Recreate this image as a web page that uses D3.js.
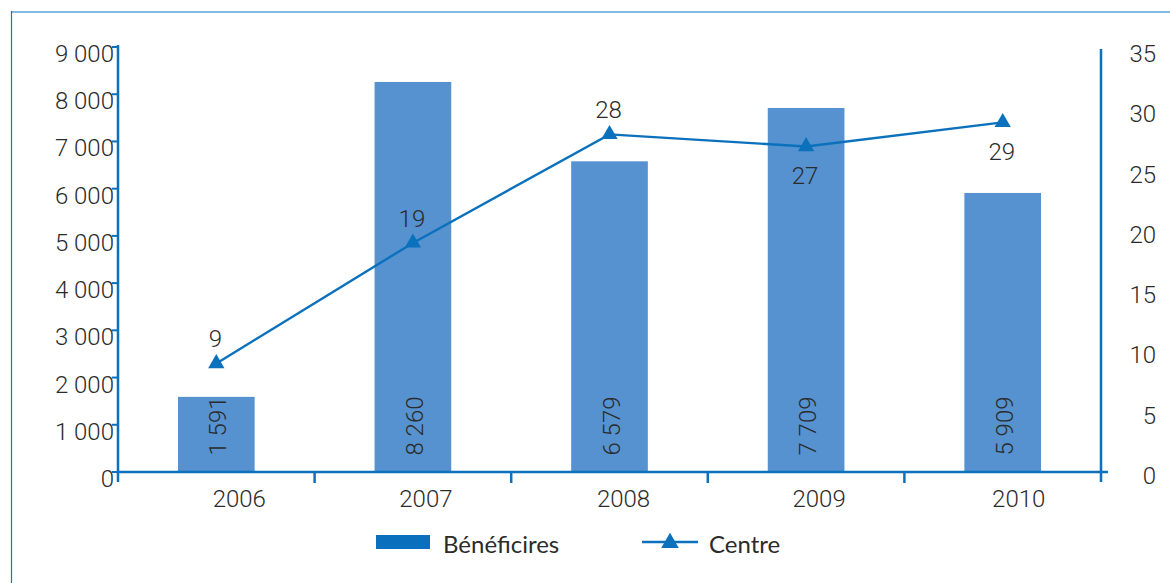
<!DOCTYPE html>
<html>
<head>
<meta charset="utf-8">
<script src="https://cdn.jsdelivr.net/npm/d3@7"></script>
<style>
  html, body { margin: 0; padding: 0; background: #fff; }
  svg { display: block; }
</style>
</head>
<body>
<svg id="chart" width="1170" height="583"></svg>
<script>
const years = ["2006", "2007", "2008", "2009", "2010"];
const beneficiaires = [1591, 8260, 6579, 7709, 5909];
const centres = [9, 19, 28, 27, 29];
const leftTicks = [0, 1000, 2000, 3000, 4000, 5000, 6000, 7000, 8000, 9000];
const rightTicks = [0, 5, 10, 15, 20, 25, 30, 35];
const labelAbove = [true, true, true, false, false];
const legendLabels = ["Bénéficires", "Centre"];
// small horizontal nudges of the year labels, as in the original layout
const yearLabelNudge = [23, 13, 14, 13, 16];

const svg = d3.select("#chart");
const axisColor = "#0b71bc";
const barColor = "#5592cf";
const textColor = "#2b2b2b";
const numFont = "Roboto, 'Liberation Sans', Arial, sans-serif";
const numWeight = 300;
const numSize = 24;
const legFont = "Lato, 'Open Sans', sans-serif";

// frame lines
svg.append("line").attr("x1", 11).attr("x2", 1170).attr("y1", 12).attr("y2", 12)
  .attr("stroke", "#5aa5dd").attr("stroke-width", 1.5);
svg.append("line").attr("x1", 11.5).attr("x2", 11.5).attr("y1", 11).attr("y2", 583)
  .attr("stroke", "#1e72b8").attr("stroke-width", 1.2);

const x = d3.scaleBand().domain(years).range([118, 1101]).paddingInner(0.61).paddingOuter(0.305);
const xb = d3.scaleBand().domain(years).range([118, 1101]);
const yL = d3.scaleLinear().domain([0, 9000]).range([472, 47]);
const yR = d3.scaleLinear().domain([0, 35]).range([472, 50]);

// bars
svg.selectAll("rect.bar").data(beneficiaires).join("rect")
  .attr("class", "bar")
  .attr("x", (d, i) => x(years[i]))
  .attr("width", x.bandwidth())
  .attr("y", d => yL(d))
  .attr("height", d => yL(0) - yL(d))
  .attr("fill", barColor);

const fmt = v => d3.format(",")(v).replace(/,/g, " ");

function numText(sel) {
  return sel.attr("font-family", numFont)
    .attr("font-weight", numWeight)
    .attr("font-size", numSize)
    .attr("fill", textColor);
}

// bar labels (rotated)
svg.selectAll("text.barlab").data(beneficiaires).join("text")
  .attr("class", "barlab")
  .attr("transform", (d, i) => `translate(${x(years[i]) + x.bandwidth() / 2 + 10},426) rotate(-90)`)
  .attr("text-anchor", "middle")
  .call(numText)
  .text(d => fmt(d));

// left axis
const gL = svg.append("g");
gL.append("line").attr("x1", 118).attr("x2", 118).attr("y1", 45).attr("y2", 482)
  .attr("stroke", axisColor).attr("stroke-width", 2.5);
gL.selectAll("line.tk").data(leftTicks).join("line")
  .attr("class", "tk")
  .attr("x1", 112).attr("x2", 118)
  .attr("y1", d => yL(d)).attr("y2", d => yL(d))
  .attr("stroke", axisColor).attr("stroke-width", 2);
gL.selectAll("text").data(leftTicks).join("text")
  .attr("x", 114).attr("y", d => yL(d) + 15)
  .attr("text-anchor", "end")
  .call(numText)
  .text(d => fmt(d));

// right axis
const gR = svg.append("g");
gR.append("line").attr("x1", 1101).attr("x2", 1101).attr("y1", 49).attr("y2", 482)
  .attr("stroke", axisColor).attr("stroke-width", 2.5);
gR.selectAll("text").data(rightTicks).join("text")
  .attr("x", 1156).attr("y", d => yR(d) + 12)
  .attr("text-anchor", "end")
  .call(numText)
  .text(d => d);

// x axis
const gX = svg.append("g");
gX.append("line").attr("x1", 117).attr("x2", 1108).attr("y1", 472).attr("y2", 472)
  .attr("stroke", axisColor).attr("stroke-width", 2.5);
gX.selectAll("line.tk").data(years.slice(1)).join("line")
  .attr("class", "tk")
  .attr("x1", d => xb(d)).attr("x2", d => xb(d))
  .attr("y1", 472).attr("y2", 483)
  .attr("stroke", axisColor).attr("stroke-width", 2.5);
gX.selectAll("text").data(years).join("text")
  .attr("x", (d, i) => xb(d) + xb.bandwidth() / 2 + yearLabelNudge[i])
  .attr("y", 507)
  .attr("text-anchor", "middle")
  .call(numText)
  .text(d => d);

// line
const cx = i => x(years[i]) + x.bandwidth() / 2;
const line = d3.line().x((d, i) => cx(i)).y(d => yR(d));
svg.append("path").datum(centres)
  .attr("d", line)
  .attr("fill", "none")
  .attr("stroke", axisColor)
  .attr("stroke-width", 2.4);

const tri = d3.symbol().type(d3.symbolTriangle).size(115);
svg.selectAll("path.mk").data(centres).join("path")
  .attr("class", "mk")
  .attr("d", tri)
  .attr("transform", (d, i) => `translate(${cx(i)},${yR(d)})`)
  .attr("fill", axisColor);

svg.selectAll("text.ptlab").data(centres).join("text")
  .attr("class", "ptlab")
  .attr("x", (d, i) => cx(i) - 1)
  .attr("y", (d, i) => labelAbove[i] ? yR(d) - 16 : yR(d) + 38)
  .attr("text-anchor", "middle")
  .call(numText)
  .text(d => d);

// legend
svg.append("rect").attr("x", 376).attr("y", 535).attr("width", 54).attr("height", 14)
  .attr("fill", "#0a6fbd");
svg.append("text").attr("x", 443).attr("y", 553)
  .attr("font-family", legFont).attr("font-size", 24)
  .attr("fill", textColor).text(legendLabels[0]);
svg.append("line").attr("x1", 642).attr("x2", 698).attr("y1", 542).attr("y2", 542)
  .attr("stroke", axisColor).attr("stroke-width", 2.4);
svg.append("path").attr("d", d3.symbol().type(d3.symbolTriangle).size(135))
  .attr("transform", "translate(670,543)").attr("fill", axisColor);
svg.append("text").attr("x", 709).attr("y", 553)
  .attr("font-family", legFont).attr("font-size", 24)
  .attr("fill", textColor).text(legendLabels[1]);
</script>
</body>
</html>
